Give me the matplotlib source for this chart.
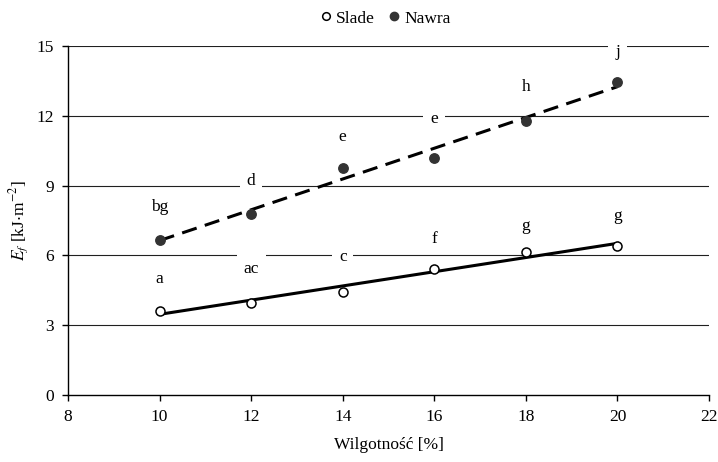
import numpy as np
import matplotlib
matplotlib.use("Agg")
import matplotlib.pyplot as plt
from matplotlib.lines import Line2D

plt.rcParams['font.family'] = ['Liberation Serif', 'DejaVu Serif']
plt.rcParams['mathtext.fontset'] = 'stix'

# === Data ===
moisture = [10, 12, 14, 16, 18, 20]
slade = [3.62, 3.97, 4.43, 5.40, 6.15, 6.39]
nawra = [6.68, 7.80, 9.75, 10.20, 11.78, 13.46]

slade_letters = ['a', 'ac', 'c', 'f', 'g', 'g']
slade_label_y = [5.0, 5.4, 5.95, 6.7, 7.25, 7.7]
nawra_letters = ['bg', 'd', 'e', 'e', 'h', 'j']
nawra_label_y = [8.1, 9.2, 11.1, 11.85, 13.25, 14.75]

fs = 12.5

fig = plt.figure(figsize=(7.18, 4.62), dpi=100)
ax = fig.add_axes([0.0947, 0.145, 0.8928, 0.7554])

# gridlines
for yv in [3, 6, 9, 12, 15]:
    ax.axhline(yv, color='#202020', lw=0.8, zorder=1)

# linear trend lines
x = np.array(moisture)
for vals, ls in [(slade, '-'), (nawra, (0, (5, 2.8)))]:
    k, b = np.polyfit(x, vals, 1)
    ax.plot([x[0], x[-1]], [k * x[0] + b, k * x[-1] + b], color='black',
            lw=2.2, linestyle=ls, zorder=3)

ax.plot(moisture, slade, 'o', ms=6.5, mfc='white', mec='black', mew=1.1,
        linestyle='none', zorder=4)
ax.plot(moisture, nawra, 'o', ms=6.8, mfc='#333333', mec='#333333',
        linestyle='none', zorder=4)

# significance letters
for xi, yi, t in zip(moisture, slade_label_y, slade_letters):
    ax.text(xi, yi, t, ha='center', va='center', fontsize=fs, zorder=5,
            bbox=dict(boxstyle='square,pad=0.4', fc='white', ec='none'))
for xi, yi, t in zip(moisture, nawra_label_y, nawra_letters):
    ax.text(xi, yi, t, ha='center', va='center', fontsize=fs, zorder=5,
            bbox=dict(boxstyle='square,pad=0.4', fc='white', ec='none'))

ax.set_xlim(8, 22)
ax.set_ylim(0, 15)
ax.set_xticks(range(8, 23, 2))
ax.set_yticks(range(0, 16, 3))
for s in ['top', 'right']:
    ax.spines[s].set_visible(False)
ax.spines['left'].set_linewidth(1.0)
ax.spines['bottom'].set_linewidth(1.0)
ax.tick_params(direction='out', length=4, width=1.0, labelsize=fs, pad=6)

ax.set_xlabel('Wilgotność [%]', fontsize=fs, labelpad=9)
ax.set_ylabel(r'$E_f$ [kJ$\cdot$m$^{-2}$]', fontsize=fs, labelpad=4)

handles = [
    Line2D([], [], marker='o', ms=5.5, mfc='white', mec='black', mew=1.1, ls='none'),
    Line2D([], [], marker='o', ms=6, mfc='#333333', mec='#333333', ls='none'),
]
fig.legend(handles, ['Slade', 'Nawra'], loc='center', bbox_to_anchor=(0.535, 0.96),
           ncol=2, frameon=False, fontsize=fs, handletextpad=0.1,
           columnspacing=0.6, handlelength=1.0)

fig.savefig('out.png', dpi=100)
